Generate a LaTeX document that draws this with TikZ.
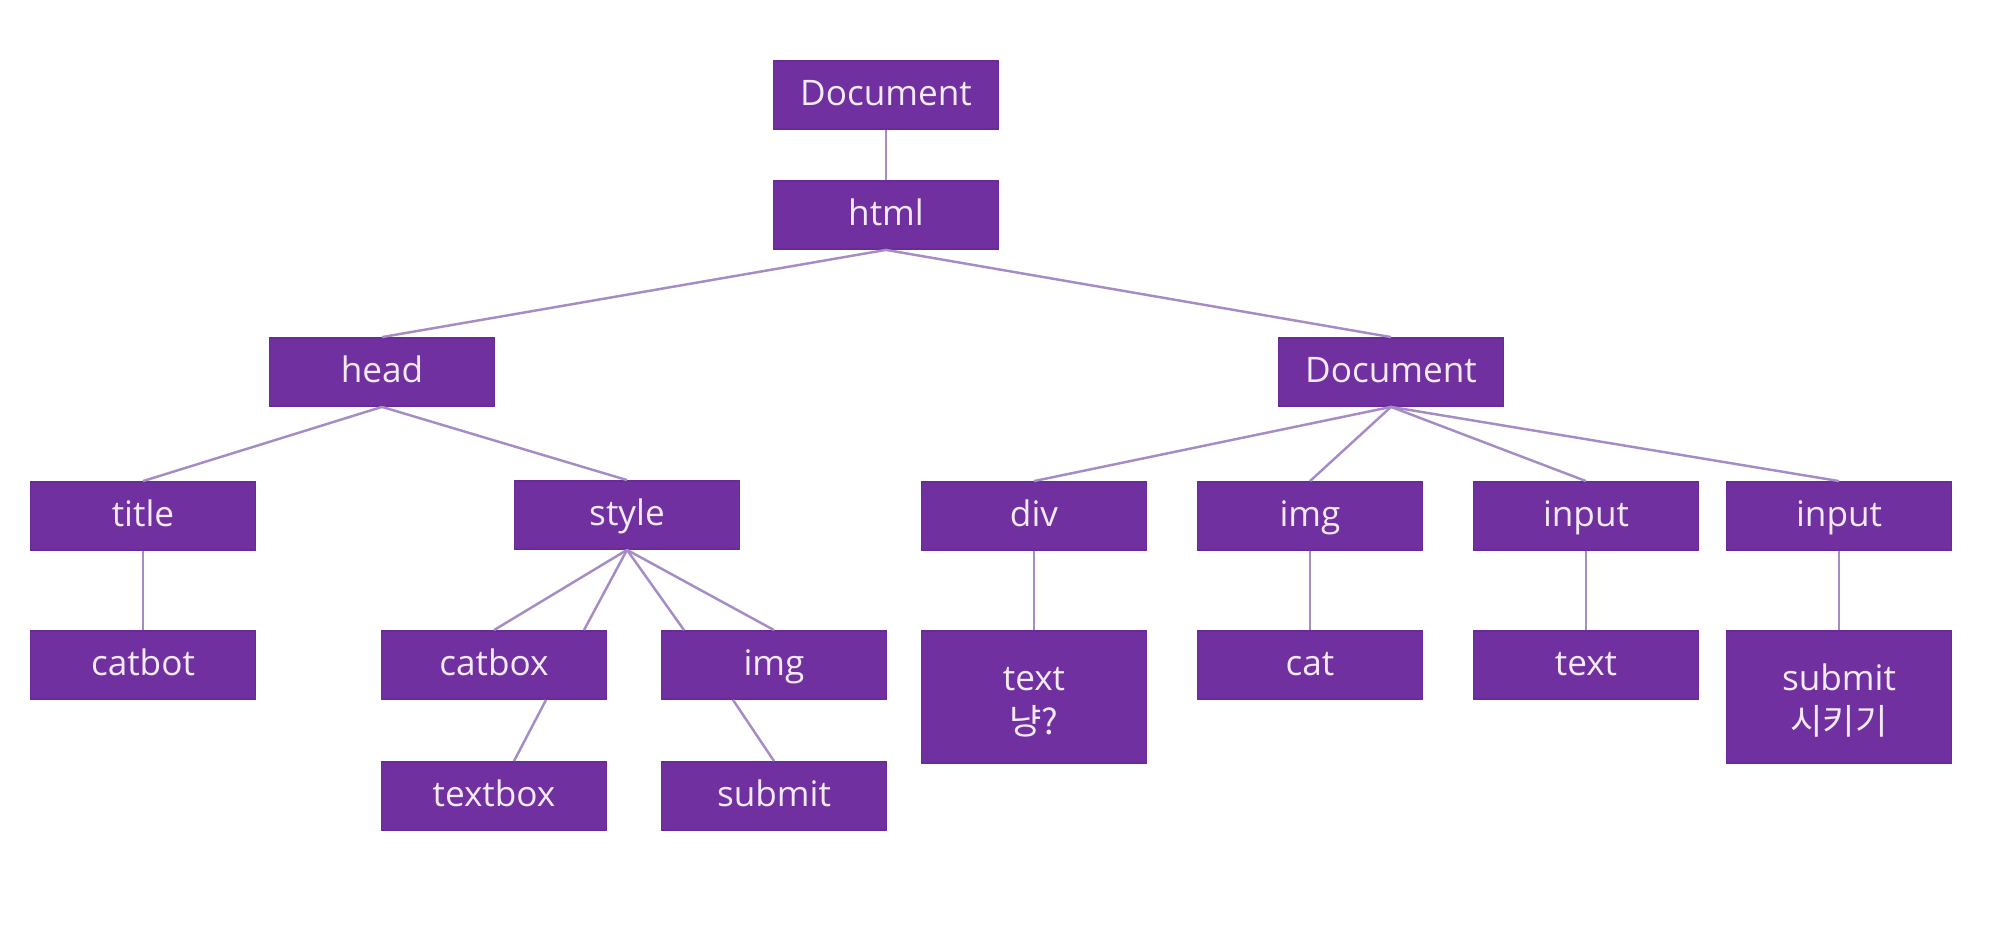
\documentclass[tikz,border=0pt]{standalone}
\usepackage{fontspec}
\setmainfont{Open Sans}
\newfontfamily\kr{Noto Sans CJK KR}
\usetikzlibrary{calc}
\definecolor{boxfill}{HTML}{7030A0}
\definecolor{boxedge}{HTML}{6A2B99}
\definecolor{boxtext}{HTML}{F3EAF8}
\definecolor{linkcol}{HTML}{A58CC6}
\begin{document}
\begin{tikzpicture}[x=0.01cm,y=-0.01cm,
  nbox/.style={draw=boxedge,line width=0.5pt,fill=boxfill,text=boxtext,
    minimum width=2.25cm,minimum height=0.68cm,inner sep=0pt,
    font=\fontsize{10}{12.5}\selectfont,align=center,
    text height=0.6em,text depth=0em},
  tallbox/.style={nbox,minimum height=1.32cm,text height=,text depth=},
  link/.style={draw=linkcol,line width=0.7pt}]
\useasboundingbox (0,0) rectangle (2000,925);
% nodes
\node[nbox] (doc) at (886,95) {Document};
\node[nbox] (html) at (886,215) {html};
\node[nbox] (head) at (382,372) {head};
\node[nbox] (doc2) at (1391,372) {Document};
\node[nbox] (title) at (143,516) {title};
\node[nbox] (style) at (627,515) {style};
\node[nbox] (div) at (1034,516) {div};
\node[nbox] (img) at (1310,516) {img};
\node[nbox] (inputa) at (1586,516) {input};
\node[nbox] (inputb) at (1839,516) {input};
\node[nbox] (catbot) at (143,665) {catbot};
\node[nbox] (catbox) at (494,665) {catbox};
\node[nbox] (imgb) at (774,665) {img};
\node[nbox] (textbox) at (494,796) {textbox};
\node[nbox] (submit) at (774,796) {submit};
\node[tallbox] (texta) at (1034,697) {\rule{0pt}{0.95em}text\\{\kr 냥?}};
\node[nbox] (cat) at (1310,665) {cat};
\node[nbox] (textb) at (1586,665) {text};
\node[tallbox] (submitb) at (1839,697) {\rule{0pt}{0.95em}submit\\{\kr 시키기}};
% connectors
\draw[link] (doc.south) -- (html.north);
\draw[link] (html.south) -- (head.north);
\draw[link] (html.south) -- (doc2.north);
\draw[link] (head.south) -- (title.north);
\draw[link] (head.south) -- (style.north);
\draw[link] (title.south) -- (catbot.north);
\draw[link] (style.south) -- (catbox.north);
\draw[link] (style.south) -- ($(catbox.north)+(90,0)$);
\draw[link] (style.south) -- ($(imgb.north)+(-90,0)$);
\draw[link] (style.south) -- (imgb.north);
\draw[link] ($(catbox.south)+(52,0)$) -- ($(textbox.north)+(20,0)$);
\draw[link] ($(imgb.south)+(-41,0)$) -- (submit.north);
\draw[link] (doc2.south) -- (div.north);
\draw[link] (doc2.south) -- (img.north);
\draw[link] (doc2.south) -- (inputa.north);
\draw[link] (doc2.south) -- (inputb.north);
\draw[link] (div.south) -- (texta.north);
\draw[link] (img.south) -- (cat.north);
\draw[link] (inputa.south) -- (textb.north);
\draw[link] (inputb.south) -- (submitb.north);
\end{tikzpicture}
\end{document}
